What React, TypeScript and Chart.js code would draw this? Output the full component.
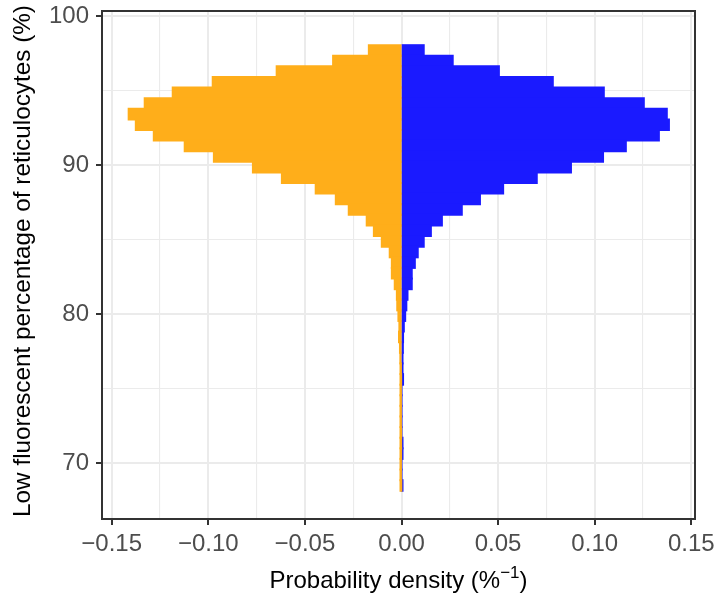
import React, { useEffect, useRef } from 'react';
import { Chart, registerables } from 'chart.js';

Chart.register(...registerables);

// Histogram bin centres (low fluorescent percentage of reticulocytes, %)
const binCenters = [
  97.70, 96.99, 96.28, 95.57, 94.86, 94.14, 93.43, 92.72, 92.01, 91.29,
  90.58, 89.87, 89.16, 88.45, 87.73, 87.02, 86.31, 85.60, 84.88, 84.17,
  83.46, 82.75, 82.03, 81.32, 80.61, 79.90, 79.19, 78.47, 77.76, 77.05,
  76.34, 75.62, 74.91, 74.20, 73.49, 72.78, 72.06, 71.35, 70.64, 69.93,
  69.21, 68.50,
];

// Left (orange) group densities, drawn as negative values
const orangeDensity = [
  -0.0169, -0.0354, -0.0646, -0.0977, -0.1184, -0.1329, -0.1412, -0.1375, -0.1282, -0.1122,
  -0.0971, -0.0769, -0.0619, -0.0444, -0.0340, -0.0273, -0.0180, -0.0143, -0.0102, -0.0061,
  -0.0050, -0.0050, -0.0035, -0.0024, -0.0022, -0.0016, -0.0011, -0.0013, -0.0008, -0.0006,
  -0.0003, -0.0002, -0.0003, -0.0003, -0.0003, -0.0003, -0.0002, -0.0002, -0.0002, -0.0003,
  -0.0003, -0.0001,
];

// Right (blue) group densities
const blueDensity = [
  0.0115, 0.0265, 0.0504, 0.0783, 0.1047, 0.1254, 0.1373, 0.1384, 0.1332, 0.1161,
  0.1043, 0.0877, 0.0700, 0.0526, 0.0406, 0.0312, 0.0209, 0.0152, 0.0115, 0.0084,
  0.0069, 0.0053, 0.0053, 0.0031, 0.0025, 0.0019, 0.0012, 0.0008, 0.0007, 0.0005,
  0.0004, 0.0008, 0, 0, 0, 0, 0, 0.0002, 0.0002, 0,
  0, 0.0001,
];

const xMajorTicks = [-0.15, -0.1, -0.05, 0, 0.05, 0.1, 0.15];
const xMinorTicks = [-0.125, -0.075, -0.025, 0.025, 0.075, 0.125];
const yMajorTicks = [70, 80, 90, 100];
const yMinorTicks = [75, 85, 95];

const xTitleMain = 'Probability density (%';
const xTitleSup = '\u22121';
const xTitleEnd = ')';
const yTitle = 'Low fluorescent percentage of reticulocytes (%)';

const FONT = '"Liberation Sans", Arial, Helvetica, sans-serif';

const isIn = (list: number[], v: number) => list.some((m) => Math.abs(m - v) < 1e-9);

const framePlugin = {
  id: 'frameAndTitles',
  afterDatasetsDraw(chart: any) {
    const { ctx, chartArea: a } = chart;
    ctx.save();
    ctx.strokeStyle = '#333333';
    ctx.lineWidth = 2;
    ctx.strokeRect(a.left, a.top, a.right - a.left, a.bottom - a.top);
    ctx.restore();
  },
  afterDraw(chart: any) {
    const { ctx, chartArea: a } = chart;
    const f = 24;
    ctx.save();
    ctx.fillStyle = '#000000';
    ctx.textBaseline = 'alphabetic';
    ctx.textAlign = 'left';
    const normal = `${f}px ${FONT}`;
    const small = `${Math.round(f * 0.7)}px ${FONT}`;
    ctx.font = normal;
    const w1 = ctx.measureText(xTitleMain).width;
    const w3 = ctx.measureText(xTitleEnd).width;
    ctx.font = small;
    const w2 = ctx.measureText(xTitleSup).width;
    let x = (a.left + a.right) / 2 - (w1 + w2 + w3) / 2;
    const baseY = chart.height - 12;
    ctx.font = normal;
    ctx.fillText(xTitleMain, x, baseY);
    x += w1;
    ctx.font = small;
    ctx.fillText(xTitleSup, x, baseY - f * 0.42);
    x += w2;
    ctx.font = normal;
    ctx.fillText(xTitleEnd, x, baseY);

    ctx.translate(30, (a.top + a.bottom) / 2 - 4);
    ctx.rotate(-Math.PI / 2);
    ctx.textAlign = 'center';
    ctx.font = `${f + 0.3}px ${FONT}`;
    ctx.fillText(yTitle, 0, 0);
    ctx.restore();
  },
};

export default function App() {
  const ref = useRef<HTMLCanvasElement>(null);

  useEffect(() => {
    document.body.style.margin = '0';
    const canvas = ref.current;
    if (!canvas) return;

    const chart = new Chart(canvas, {
      type: 'bar',
      data: {
        datasets: [
          {
            label: 'orange',
            data: binCenters.map((y, i) => ({ x: orangeDensity[i], y })),
            backgroundColor: '#FFAE1A',
            borderWidth: 0,
            barPercentage: 1,
            categoryPercentage: 1,
            grouped: false,
            inflateAmount: 1,
          } as any,
          {
            label: 'blue',
            data: binCenters.map((y, i) => ({ x: blueDensity[i], y })),
            backgroundColor: '#1A1AFF',
            borderWidth: 0,
            barPercentage: 1,
            categoryPercentage: 1,
            grouped: false,
            inflateAmount: 1,
          } as any,
        ],
      },
      options: {
        responsive: false,
        animation: false,
        indexAxis: 'y',
        layout: { padding: { left: 0, top: 11, right: 45, bottom: 0 } },
        plugins: {
          legend: { display: false },
          tooltip: { enabled: false },
          title: { display: false },
        },
        scales: {
          x: {
            type: 'linear',
            position: 'bottom',
            min: -0.155005,
            max: 0.151895,
            offset: false,
            afterBuildTicks: (scale: any) => {
              scale.ticks = [...xMajorTicks, ...xMinorTicks]
                .sort((p, q) => p - q)
                .map((value) => ({ value }));
            },
            afterFit: (scale: any) => {
              scale.height = 81;
              scale.paddingLeft = 0;
              scale.paddingRight = 0;
              scale.paddingTop = 0;
              scale.paddingBottom = 0;
            },
            border: { display: false },
            grid: {
              offset: false,
              color: '#EBEBEB',
              lineWidth: (c: any) => (c.tick && isIn(xMajorTicks, c.tick.value) ? 2 : 1.1),
              tickColor: (c: any) => (c.tick && isIn(xMajorTicks, c.tick.value) ? '#333333' : 'rgba(0,0,0,0)'),
              tickWidth: (c: any) => (c.tick && isIn(xMajorTicks, c.tick.value) ? 2 : 0),
              tickLength: 6,
            },
            ticks: {
              autoSkip: false,
              maxRotation: 0,
              minRotation: 0,
              padding: 5,
              color: '#4D4D4D',
              font: { family: FONT, size: 24 },
              callback: (v: any) => {
                const n = Number(v);
                if (!isIn(xMajorTicks, n)) return '';
                return n.toFixed(2).replace('-', '\u2212');
              },
            },
          },
          y: {
            type: 'linear',
            position: 'left',
            min: 66.25,
            max: 100.35,
            offset: false,
            afterBuildTicks: (scale: any) => {
              scale.ticks = [...yMajorTicks, ...yMinorTicks]
                .sort((p, q) => p - q)
                .map((value) => ({ value }));
            },
            afterFit: (scale: any) => {
              scale.width = 102;
              scale.paddingLeft = 0;
              scale.paddingRight = 0;
              scale.paddingTop = 0;
              scale.paddingBottom = 0;
            },
            border: { display: false },
            grid: {
              offset: false,
              color: '#EBEBEB',
              lineWidth: (c: any) => (c.tick && isIn(yMajorTicks, c.tick.value) ? 2 : 1.1),
              tickColor: (c: any) => (c.tick && isIn(yMajorTicks, c.tick.value) ? '#333333' : 'rgba(0,0,0,0)'),
              tickWidth: (c: any) => (c.tick && isIn(yMajorTicks, c.tick.value) ? 2 : 0),
              tickLength: 6,
            },
            ticks: {
              autoSkip: false,
              padding: 7,
              color: '#4D4D4D',
              font: { family: FONT, size: 24 },
              callback: (v: any) => {
                const n = Number(v);
                if (!isIn(yMajorTicks, n)) return '';
                return String(n);
              },
            },
          },
        },
      } as any,
      plugins: [framePlugin],
    });

    return () => chart.destroy();
  }, []);

  return (
    <div
      style={{
        position: 'absolute',
        left: 0,
        top: 0,
        width: 714,
        height: 600,
        overflow: 'hidden',
        background: '#ffffff',
      }}
    >
      <canvas ref={ref} width={740} height={600} style={{ display: 'block', width: 740, height: 600 }} />
    </div>
  );
}
